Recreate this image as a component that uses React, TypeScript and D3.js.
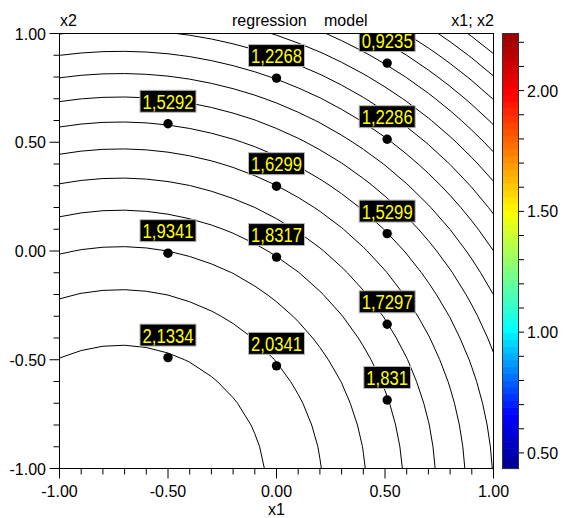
import React from "react";
import * as d3 from "d3";

// ---------- data ----------
const AXIS_TICKS = [-1, -0.5, 0, 0.5, 1];
const AXIS_TICK_LABELS = ["-1.00", "-0.50", "0.00", "0.50", "1.00"];
const COLOR_TICKS = [0.5, 1, 1.5, 2];
const COLOR_TICK_LABELS = ["0.50", "1.00", "1.50", "2.00"];
const CONTOUR_LEVELS = [0.53, 0.63, 0.73, 0.83, 0.93, 1.03, 1.13, 1.23, 1.33, 1.43, 1.53, 1.63, 1.73, 1.83, 1.93, 2.03, 2.13];
// regression model z = b0 + b1*x1 + b2*x2 + b11*x1^2 + b22*x2^2 + b12*x1*x2
const MODEL_COEFFS = [1.817, -0.346, -0.545, -0.2405, -0.25, 0];
const POINT_X1 = [-0.5, -0.5, -0.5, 0, 0, 0, 0, 0.51, 0.51, 0.51, 0.51, 0.51];
const POINT_X2 = [0.585, -0.01, -0.49, 0.795, 0.298, -0.028, -0.528, 0.864, 0.514, 0.08, -0.337, -0.685];
const POINT_VALUES = [1.5292, 1.9341, 2.1334, 1.2268, 1.6299, 1.8317, 2.0341, 0.9235, 1.2286, 1.5299, 1.7297, 1.831];
const TITLE_WORDS = ["regression", "model"];
const JET_STOPS = [0, 0.125, 0.32, 0.59, 0.86, 1];
const JET_COLORS = ["#000090", "#0000ff", "#00ffff", "#ffff00", "#ff0000", "#960000"];

// ---------- layout ----------
const W = 568, H = 518;
const PL = 59.5, PR = 493.5, PT = 33.5, PB = 468.5;
const CB_X = 502, CB_W = 17;
const FONT = "'Liberation Sans', Arial, sans-serif";

const model = (x1: number, x2: number) => {
  const [b0, b1, b2, b11, b22, b12] = MODEL_COEFFS;
  return b0 + b1 * x1 + b2 * x2 + b11 * x1 * x1 + b22 * x2 * x2 + b12 * x1 * x2;
};

export default function App() {
  const x = d3.scaleLinear().domain([-1, 1]).range([PL, PR]);
  const y = d3.scaleLinear().domain([-1, 1]).range([PB, PT]);

  // contour grid
  const STEP = 0.1, LO = -1.1, N = 23;
  const grid: number[] = new Array(N * N);
  for (let j = 0; j < N; j++)
    for (let i = 0; i < N; i++) grid[j * N + i] = model(LO + i * STEP, LO + j * STEP);
  const contours = d3.contours().size([N, N]).thresholds(CONTOUR_LEVELS)(grid);
  const toPx = (p: number[]) => [x(LO + (p[0] - 0.5) * STEP), y(LO + (p[1] - 0.5) * STEP)];
  const paths = contours.map((c) => {
    let d = "";
    c.coordinates.forEach((poly) =>
      poly.forEach((ring) => {
        ring.forEach((p, k) => {
          const [px, py] = toPx(p);
          d += (k === 0 ? "M" : "L") + px.toFixed(2) + "," + py.toFixed(2);
        });
      })
    );
    return d;
  });

  // value range over plot domain
  const fine: number[] = [];
  for (let j = 0; j <= 100; j++)
    for (let i = 0; i <= 100; i++) fine.push(model(-1 + i * 0.02, -1 + j * 0.02));
  const [zMin, zMax] = d3.extent(fine) as [number, number];
  const cy = d3.scaleLinear().domain([zMin, zMax]).range([PB, PT]);
  const jet = d3.scaleLinear<string>().domain(JET_STOPS).range(JET_COLORS).interpolate(d3.interpolateRgb);
  const bands = 64;
  const bandH = (PB - PT) / bands;

  const minorX = d3.range(-10, 11).map((k) => k / 10);
  const minorC = d3.range(5, 23).map((k) => k / 10).filter((v) => v >= zMin && v <= zMax);

  const fmt = (v: number) => String(v).replace(".", ",");
  const textW = (s: string) => s.split("").reduce((a, ch) => a + (ch === "," ? 4.5 : 9.3), 0);

  return (
    <div style={{ position: "absolute", left: 0, top: 0 }}>
      <svg width={W} height={H} style={{ display: "block", background: "#fff" }} fontFamily={FONT}>
        <defs>
          <clipPath id="plot">
            <rect x={PL} y={PT} width={PR - PL} height={PB - PT} />
          </clipPath>
        </defs>
        <rect x={0} y={0} width={W} height={H} fill="#fff" />
        <g clipPath="url(#plot)">
          {paths.map((d, i) => (
            <path key={i} d={d} fill="none" stroke="#000" strokeWidth={1} />
          ))}
          {POINT_VALUES.map((v, i) => {
            const px = x(POINT_X1[i]);
            const py = y(POINT_X2[i]);
            const s = fmt(v);
            const tw = textW(s);
            const bw = tw + 5;
            return (
              <g key={i}>
                <circle cx={px} cy={py} r={4.7} fill="#000" />
                <rect x={px - bw / 2} y={py - 33.5} width={bw} height={22} fill="#000" stroke="#b8b8b8" strokeWidth={1} />
                <text x={px - tw / 2} y={py - 15} fontSize={20} fill="#ffff00" textLength={tw} lengthAdjust="spacingAndGlyphs">
                  {s}
                </text>
              </g>
            );
          })}
        </g>
        <rect x={PL} y={PT} width={PR - PL} height={PB - PT} fill="none" stroke="#000" strokeWidth={1} />

        {/* left axis */}
        {minorX.map((v, i) => {
          const major = Math.abs(v * 2 - Math.round(v * 2)) < 1e-6;
          return <line key={"ly" + i} x1={PL - (major ? 10 : 6)} x2={PL} y1={y(v)} y2={y(v)} stroke="#000" />;
        })}
        {AXIS_TICKS.map((v, i) => (
          <text key={"lyl" + i} x={46} y={y(v) + 6} fontSize={16} textAnchor="end" fill="#000">
            {AXIS_TICK_LABELS[i]}
          </text>
        ))}
        {/* bottom axis */}
        {minorX.map((v, i) => {
          const major = Math.abs(v * 2 - Math.round(v * 2)) < 1e-6;
          return <line key={"bx" + i} x1={x(v)} x2={x(v)} y1={PB} y2={PB + (major ? 10 : 6)} stroke="#000" />;
        })}
        {AXIS_TICKS.map((v, i) => (
          <text key={"bxl" + i} x={x(v)} y={497} fontSize={16} textAnchor="middle" fill="#000">
            {AXIS_TICK_LABELS[i]}
          </text>
        ))}

        {/* titles */}
        <text x={60} y={26} fontSize={16} fill="#000">x2</text>
        <text x={232} y={26} fontSize={16} fill="#000">{TITLE_WORDS[0]}</text>
        <text x={324} y={26} fontSize={16} fill="#000">{TITLE_WORDS[1]}</text>
        <text x={494} y={26} fontSize={16} textAnchor="end" fill="#000">x1; x2</text>
        <text x={(PL + PR) / 2} y={515} fontSize={16} textAnchor="middle" fill="#000">x1</text>

        {/* colorbar */}
        {d3.range(bands).map((k) => {
          const t = (k + 0.5) / bands;
          return <rect key={"cb" + k} x={CB_X} y={PB - (k + 1) * bandH} width={CB_W} height={bandH + 0.6} fill={jet(t)} />;
        })}
        <rect x={CB_X + 0.5} y={PT} width={CB_W - 1} height={PB - PT} fill="none" stroke="#333" strokeWidth={1} />
        {minorC.map((v, i) => (
          <line key={"ct" + i} x1={CB_X + CB_W} x2={CB_X + CB_W + 5} y1={cy(v)} y2={cy(v)} stroke="#000" />
        ))}
        {COLOR_TICKS.map((v, i) => (
          <text key={"ctl" + i} x={CB_X + CB_W + 8} y={cy(v) + 6} fontSize={16} fill="#000">
            {COLOR_TICK_LABELS[i]}
          </text>
        ))}
      </svg>
    </div>
  );
}
